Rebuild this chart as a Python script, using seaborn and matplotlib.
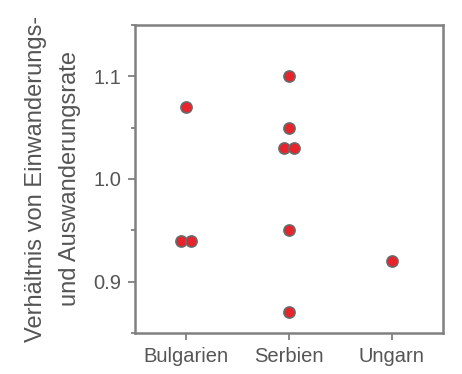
import matplotlib
matplotlib.use("Agg")
import matplotlib.pyplot as plt
from matplotlib.ticker import MultipleLocator
import numpy as np
import pandas as pd
import seaborn as sns

# Ratio of immigration to emigration rate per country
countries = ["Bulgarien", "Serbien", "Ungarn"]
bulgarien = [1.07, 0.94, 0.94]
serbien = [1.10, 1.05, 1.03, 1.03, 0.95, 0.87]
ungarn = [0.92]

df = pd.DataFrame({
    "Land": ["Bulgarien"] * len(bulgarien) + ["Serbien"] * len(serbien) + ["Ungarn"] * len(ungarn),
    "Verhaeltnis": bulgarien + serbien + ungarn,
})

# Spread identical values symmetrically around the category centre
df["pos"] = df["Land"].map({c: i for i, c in enumerate(countries)}).astype(float)
grp = df.groupby(["Land", "Verhaeltnis"])
rank = grp.cumcount()
count = grp["Verhaeltnis"].transform("size")
df["pos"] = df["pos"] + (rank - (count - 1) / 2) * 0.1

sns.set_theme(style="white")
plt.rcParams["font.family"] = ["Liberation Sans", "DejaVu Sans"]

text_col = "#555555"
spine_col = "#808080"

fig = plt.figure(figsize=(4.62, 3.74), dpi=100)
ax = fig.add_axes([0.292, 0.110, 0.667, 0.823])

sns.scatterplot(
    data=df, x="pos", y="Verhaeltnis",
    color="#e8232b", edgecolor="#6a6a6a", linewidth=1.2, s=64, ax=ax, zorder=3,
)

ax.set_xlim(-0.5, 2.5)
ax.set_ylim(0.85, 1.15)
ax.set_xticks(range(len(countries)))
ax.set_xticklabels(countries)
ax.yaxis.set_minor_locator(MultipleLocator(0.05))
ax.set_yticks([0.9, 1.0, 1.1])
ax.set_yticklabels(["0.9", "1.0", "1.1"])

ax.set_xlabel("")
ax.set_ylabel("Verhältnis von Einwanderungs-\nund Auswanderungsrate",
              fontsize=17, color=text_col, linespacing=1.7, labelpad=9)

for s in ax.spines.values():
    s.set_color(spine_col)
    s.set_linewidth(1.8)

ax.tick_params(axis="both", which="major", direction="out", length=5, width=1.3,
               color=spine_col, labelsize=14.5, labelcolor=text_col, pad=5,
               left=True, bottom=True)
ax.tick_params(axis="y", which="minor", direction="out", length=3, width=1.3,
               color=spine_col, left=True)

fig.savefig("out.png", dpi=100)
